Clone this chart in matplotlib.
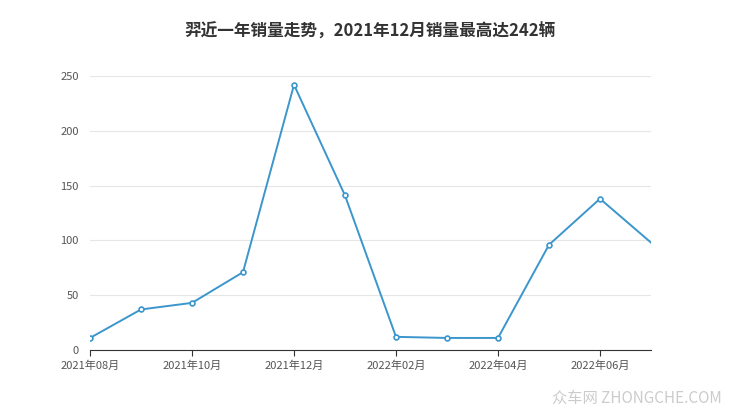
import matplotlib.pyplot as plt

plt.rcParams['font.family'] = ['Noto Sans CJK SC', 'DejaVu Sans']

months = ["2021年08月", "2021年09月", "2021年10月", "2021年11月", "2021年12月", "2022年01月",
          "2022年02月", "2022年03月", "2022年04月", "2022年05月", "2022年06月", "2022年07月"]
sales = [11, 37, 43, 71, 242, 141, 12, 11, 11, 96, 138, 98]
yticks = [0, 50, 100, 150, 200, 250]

fig = plt.figure(figsize=(7.4, 4.17), dpi=100)
ax = fig.add_axes([90 / 740, 1 - 350 / 417, 561 / 740, 274 / 417])
x = list(range(len(sales)))
ax.plot(x, sales, color="#3a96cc", lw=1.4, marker="o", ms=3.5,
        mfc="white", mec="#3a96cc", mew=1.2, markevery=slice(0, len(sales) - 1))
ax.set_xlim(0, len(sales) - 1)
ax.set_ylim(0, 250)
ax.set_yticks(yticks)
ax.set_xticks(x[::2])
ax.set_xticklabels(months[::2])
ax.grid(axis="y", color="#e6e6e6", lw=0.8)
ax.set_axisbelow(True)
for s in ["top", "right", "left"]:
    ax.spines[s].set_visible(False)
ax.spines["bottom"].set_color("#333333")
ax.tick_params(axis="y", length=0, labelsize=8, colors="#555555", pad=8)
ax.tick_params(axis="x", length=4, labelsize=8, colors="#555555", color="#333333")

fig.text(0.5, 1 - 32 / 417, "羿近一年销量走势，2021年12月销量最高达242辆",
         ha="center", va="center", fontsize=12, fontweight="bold", color="#333333")
fig.text(0.975, 1 - 398 / 417, "众车网 ZHONGCHE.COM", ha="right", va="center",
         fontsize=11, color="#cccccc")

fig.savefig("out.png", dpi=100)
